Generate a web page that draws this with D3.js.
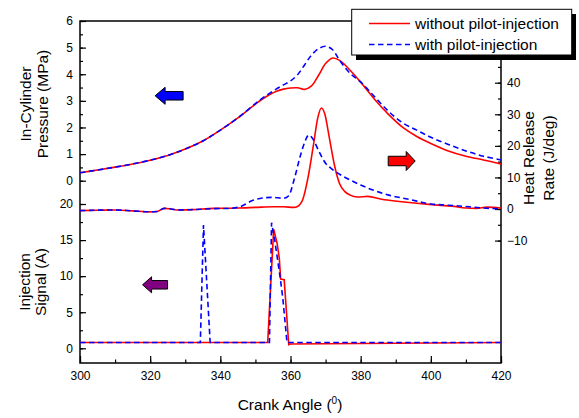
<!DOCTYPE html>
<html>
<head>
<meta charset="utf-8">
<script src="https://cdnjs.cloudflare.com/ajax/libs/d3/7.8.5/d3.min.js"></script>
<style>
  body { margin: 0; background: #fff; }
  svg { font-family: Arial, "Liberation Sans", sans-serif; }
</style>
</head>
<body>
<svg id="chart" width="579" height="418"></svg>
<script>
// crank angle grid for cylinder pressure
const pressureAngles = [300, 305, 310, 315, 320, 325, 330, 335, 340, 345, 350, 352, 354, 356, 358, 360, 362, 364, 366, 368, 370, 372, 374, 377, 380, 384, 388, 392, 396, 400, 405, 410, 415, 420];
const pressureWithout = [0.30, 0.40, 0.51, 0.63, 0.77, 0.95, 1.19, 1.49, 1.90, 2.36, 2.88, 3.07, 3.23, 3.36, 3.44, 3.48, 3.49, 3.43, 3.56, 3.96, 4.40, 4.61, 4.52, 4.15, 3.70, 3.05, 2.48, 2.00, 1.66, 1.40, 1.12, 0.92, 0.78, 0.63];
const pressureWith = [0.30, 0.40, 0.51, 0.63, 0.77, 0.95, 1.19, 1.49, 1.90, 2.36, 2.90, 3.10, 3.28, 3.45, 3.60, 3.75, 3.98, 4.35, 4.72, 4.96, 5.05, 4.92, 4.52, 4.03, 3.71, 3.15, 2.60, 2.17, 1.90, 1.63, 1.36, 1.12, 0.92, 0.78];

// heat release rate (J/deg)
const hrrAnglesWithout = [300, 305, 310, 315, 320, 322, 324, 326, 328, 332, 338, 345, 350, 355, 358, 361, 362, 363.5, 365, 366.5, 367.8, 368.8, 369.8, 371, 372.5, 374, 375.5, 377, 379, 382, 386, 391, 396, 401, 406, 410, 413, 416, 420];
const hrrWithout = [-0.5, -0.4, -0.3, -0.6, -0.9, -0.8, 0.2, 0.0, -0.3, -0.2, 0.2, 0.3, 0.5, 0.7, 0.7, 0.5, 0.8, 3, 10, 20, 29, 32, 30, 23, 14, 8, 5.5, 4.4, 3.8, 4.0, 3.1, 2.4, 1.8, 1.3, 0.9, 0.3, 0.2, 0.6, 0.3];
const hrrAnglesWith = [300, 310, 315, 320, 322, 324, 326, 328, 332, 338, 343, 346, 349, 352, 355, 358, 359.5, 361, 363, 364, 365.2, 366.5, 368, 370, 372, 374, 377, 380, 384, 388, 394, 400, 405, 411, 415, 420];
const hrrWith = [-0.5, -0.3, -0.6, -0.9, -0.8, 0.2, 0.0, -0.3, -0.2, 0.1, 0.2, 0.9, 2.6, 3.5, 3.7, 3.4, 4.2, 9.2, 17.6, 21, 23.4, 22, 18.5, 14.5, 12.5, 11, 9.2, 7.6, 5.8, 4.4, 3.0, 1.6, 1.2, 0.7, 0.3, 0.1];

// injection signal (A)
const injAnglesWithout = [300, 353.5, 355.2, 356.2, 356.8, 357.2, 358.2, 359.5, 360, 420];
const injWithout = [0.8, 0.8, 16.5, 14.5, 12.5, 9.6, 9.5, 0.5, 0.6, 0.8];
const injAnglesWith = [300, 334.3, 335.2, 337.1, 354.0, 354.6, 355.5, 357, 357.8, 359, 420];
const injWith = [0.8, 0.8, 17.1, 0.8, 0.8, 17.4, 15, 10, 7, 0.8, 0.8];

const xTicks = [300, 320, 340, 360, 380, 400, 420];
const pressureTicks = [0, 1, 2, 3, 4, 5, 6];
const injTicks = [0, 5, 10, 15, 20];
const hrrTicks = [-10, 0, 10, 20, 30, 40];

const seriesNames = ["without pilot-injection", "with pilot-injection"];
const colors = ["#ff0000", "#0000ff"];

const svg = d3.select("#chart");
const plotLeft = 80, plotRight = 501, plotTop = 21, plotBottom = 363;

const x = d3.scaleLinear().domain([300, 420]).range([plotLeft, plotRight]);
const yP = d3.scaleLinear().domain([0, 6]).range([180.7, plotTop]);
const yI = d3.scaleLinear().domain([0, 20]).range([348.3, 204]);
const yH = d3.scaleLinear().domain([0, 40]).range([209, 82.7]);

svg.append("rect").attr("width", 579).attr("height", 418).attr("fill", "#fff");

// frame
svg.append("rect")
  .attr("x", plotLeft).attr("y", plotTop)
  .attr("width", plotRight - plotLeft).attr("height", plotBottom - plotTop)
  .attr("fill", "none").attr("stroke", "#000").attr("stroke-width", 1.5);

function styleAxis(g) {
  g.select(".domain").remove();
  g.selectAll("line").attr("stroke", "#000").attr("stroke-width", 1.2);
  g.selectAll("text").attr("fill", "#000").style("font-size", "12px");
}

// bottom axis
svg.append("g").attr("transform", `translate(0,${plotBottom})`)
  .call(d3.axisBottom(x).tickValues(d3.range(300, 421, 10)).tickSize(-3.5).tickFormat(""))
  .call(styleAxis);
svg.append("g").attr("transform", `translate(0,${plotBottom})`)
  .call(d3.axisBottom(x).tickValues(xTicks).tickSize(-7).tickPadding(8).tickFormat(d3.format("d")))
  .call(styleAxis);

// left pressure axis
svg.append("g").attr("transform", `translate(${plotLeft},0)`)
  .call(d3.axisLeft(yP).tickValues(d3.range(0, 6.01, 0.5)).tickSize(-3).tickFormat(""))
  .call(styleAxis);
svg.append("g").attr("transform", `translate(${plotLeft},0)`)
  .call(d3.axisLeft(yP).tickValues(pressureTicks).tickSize(-6).tickPadding(7).tickFormat(d3.format("d")))
  .call(styleAxis);

// left injection axis
svg.append("g").attr("transform", `translate(${plotLeft},0)`)
  .call(d3.axisLeft(yI).tickValues(d3.range(0, 20.01, 2.5)).tickSize(-3).tickFormat(""))
  .call(styleAxis);
svg.append("g").attr("transform", `translate(${plotLeft},0)`)
  .call(d3.axisLeft(yI).tickValues(injTicks).tickSize(-6).tickPadding(7).tickFormat(d3.format("d")))
  .call(styleAxis);

// right heat release axis
svg.append("g").attr("transform", `translate(${plotRight},0)`)
  .call(d3.axisRight(yH).tickValues(d3.range(-10, 46, 5)).tickSize(-3).tickFormat(""))
  .call(styleAxis);
svg.append("g").attr("transform", `translate(${plotRight},0)`)
  .call(d3.axisRight(yH).tickValues(hrrTicks).tickSize(-6).tickPadding(6).tickFormat(d3.format("d")))
  .call(styleAxis);

// curves
function drawSeries(angles, values, yScale, i, curve) {
  const pts = angles.map((a, k) => [a, values[k]]);
  svg.append("path")
    .datum(pts)
    .attr("fill", "none")
    .attr("stroke", colors[i])
    .attr("stroke-width", 1.6)
    .attr("stroke-dasharray", i === 1 ? "5.5,3.5" : null)
    .attr("d", d3.line().x(d => x(d[0])).y(d => yScale(d[1])).curve(curve));
}

drawSeries(pressureAngles, pressureWithout, yP, 0, d3.curveCatmullRom.alpha(0.5));
drawSeries(hrrAnglesWithout, hrrWithout, yH, 0, d3.curveMonotoneX);
drawSeries(injAnglesWithout, injWithout, yI, 0, d3.curveLinear);
drawSeries(pressureAngles, pressureWith, yP, 1, d3.curveCatmullRom.alpha(0.5));
drawSeries(hrrAnglesWith, hrrWith, yH, 1, d3.curveMonotoneX);
drawSeries(injAnglesWith, injWith, yI, 1, d3.curveLinear);

// axis titles
function vTitle(cx, cy, lines, gap) {
  const t = svg.append("text")
    .attr("transform", `translate(${cx},${cy}) rotate(-90)`)
    .attr("text-anchor", "middle")
    .style("font-size", "15.5px");
  lines.forEach((s, k) => {
    t.append("tspan").attr("x", 0).attr("y", (k - (lines.length - 1) / 2) * gap + 5.5).text(s);
  });
}
vTitle(33.5, 104, ["In-Cylinder", "Pressure (MPa)"], 17);
vTitle(32.5, 282, ["Injection", "Signal (A)"], 15.5);
vTitle(538, 158, ["Heat Release", "Rate (J/deg)"], 20);

const xt = svg.append("text")
  .attr("x", 290).attr("y", 410)
  .attr("text-anchor", "middle")
  .style("font-size", "15.5px");
xt.append("tspan").text("Crank Angle (");
xt.append("tspan").attr("dy", -6).style("font-size", "10px").text("0");
xt.append("tspan").attr("dy", 6).text(")");

// direction arrows
function arrow(cx, cy, dir, color, len, bodyH, headH, headL) {
  const h = len / 2;
  const pts = [
    [-h, -bodyH / 2], [h - headL, -bodyH / 2], [h - headL, -headH / 2], [h, 0],
    [h - headL, headH / 2], [h - headL, bodyH / 2], [-h, bodyH / 2]
  ].map(p => [cx + dir * p[0], cy + p[1]]);
  svg.append("polygon")
    .attr("points", pts.map(p => p.join(",")).join(" "))
    .attr("fill", color).attr("stroke", "#000").attr("stroke-width", 1);
}
arrow(x(325.4), yP(3.19), -1, "#0000ff", 28, 8.5, 17, 10);
arrow(x(391.7), yH(15.2), 1, "#ff0000", 27, 9.5, 19, 9);
arrow(x(321.4), yI(8.8), -1, "#800080", 25, 8.5, 16, 9);

// legend
const lg = svg.append("g");
lg.append("rect").attr("x", 356).attr("y", 14).attr("width", 220).attr("height", 46).attr("fill", "#000");
lg.append("rect").attr("x", 351.7).attr("y", 9.3).attr("width", 220).attr("height", 45.7)
  .attr("fill", "#fff").attr("stroke", "#000").attr("stroke-width", 1);
seriesNames.forEach((name, i) => {
  const yy = 23.5 + i * 21;
  lg.append("line").attr("x1", 369).attr("x2", 410).attr("y1", yy).attr("y2", yy)
    .attr("stroke", colors[i]).attr("stroke-width", 1.6)
    .attr("stroke-dasharray", i === 1 ? "5.5,3.5" : null);
  lg.append("text").attr("x", 415).attr("y", yy + 5.5).style("font-size", "15.5px").text(name);
});
</script>
</body>
</html>
